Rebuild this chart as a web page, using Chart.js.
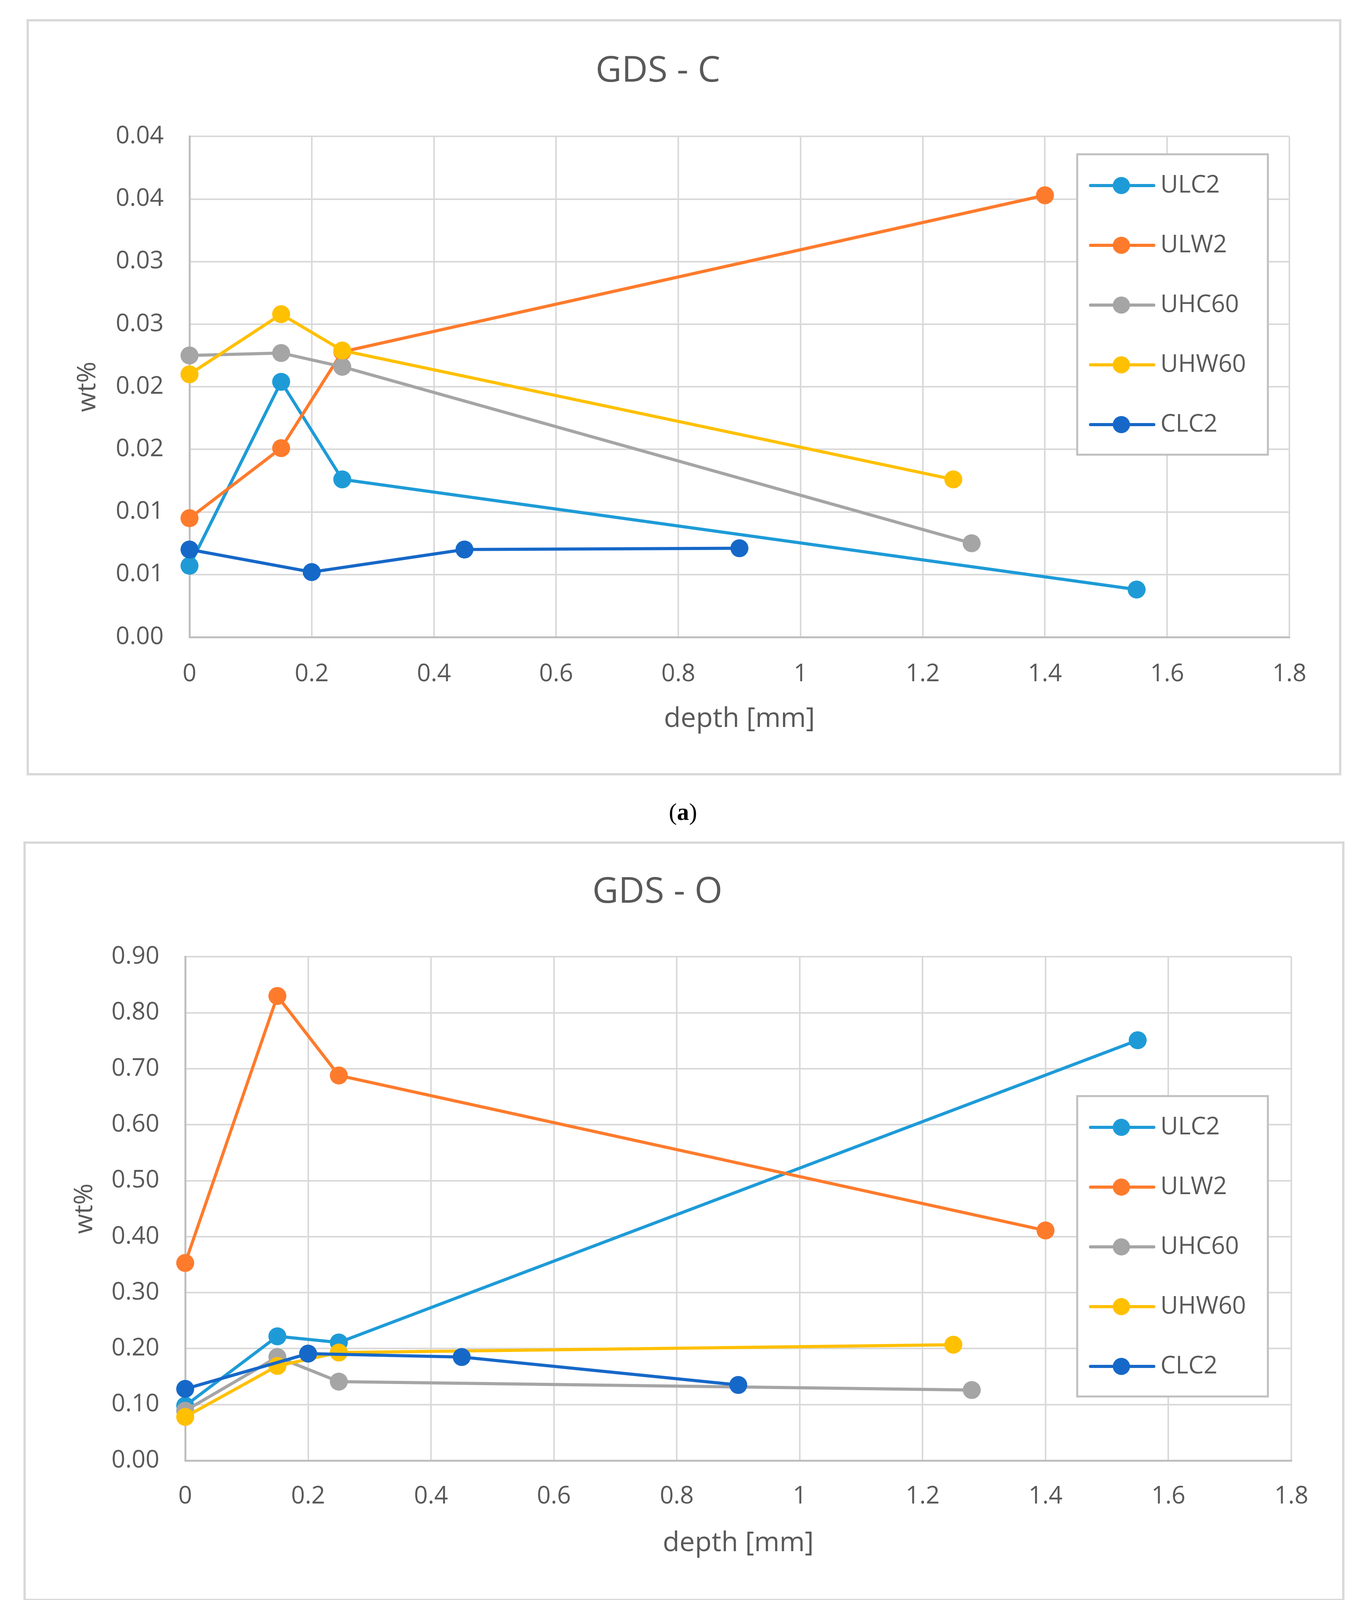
<!DOCTYPE html>
<html>
<head>
<meta charset="utf-8">
<script src="https://cdn.jsdelivr.net/npm/chart.js@4.4.0/dist/chart.umd.min.js"></script>
<style>
html, body { margin: 0; padding: 0; background: #fff; }
body { width: 3491px; height: 4268px; position: relative; overflow: hidden; }
.panel { position: absolute; }
.caption {
    position: absolute; width: 400px; text-align: center;
    font-family: "Liberation Serif", "DejaVu Serif", serif;
    font-size: 62px; line-height: 62px; color: #000;
}
</style>
</head>
<body>
<div class="panel" style="left:68px;top:49px;width:3365px;height:1936px"><canvas id="chartC"></canvas></div>
<div class="caption" style="left:1548px;top:2047px">(<b>a</b>)</div>
<div class="panel" style="left:60px;top:2154px;width:3381px;height:1945px"><canvas id="chartO"></canvas></div>
<div class="caption" style="left:1548px;top:4155px">(<b>b</b>)</div>

<script>
// series
const seriesNames = ['ULC2', 'ULW2', 'UHC60', 'UHW60', 'CLC2'];

// depth [mm] of each measurement
const depthULC2  = [0, 0.15, 0.25, 1.55];
const depthULW2  = [0, 0.15, 0.25, 1.4];
const depthUHC60 = [0, 0.15, 0.25, 1.28];
const depthUHW60 = [0, 0.15, 0.25, 1.25];
const depthCLC2  = [0, 0.2, 0.45, 0.9];

// (a) GDS - C, wt%
const carbonULC2  = [0.0057, 0.0204, 0.0126, 0.0038];
const carbonULW2  = [0.0095, 0.0151, 0.0228, 0.0353];
const carbonUHC60 = [0.0225, 0.0227, 0.0216, 0.0075];
const carbonUHW60 = [0.0210, 0.0258, 0.0229, 0.0126];
const carbonCLC2  = [0.0070, 0.0052, 0.0070, 0.0071];

// (b) GDS - O, wt%
const oxygenULC2  = [0.098, 0.222, 0.211, 0.751];
const oxygenULW2  = [0.353, 0.830, 0.688, 0.411];
const oxygenUHC60 = [0.089, 0.185, 0.141, 0.126];
const oxygenUHW60 = [0.078, 0.169, 0.193, 0.207];
const oxygenCLC2  = [0.128, 0.191, 0.185, 0.135];

// tick values and labels
const depthTicks = [0, 0.2, 0.4, 0.6, 0.8, 1, 1.2, 1.4, 1.6, 1.8];
const depthTickLabels = ['0', '0.2', '0.4', '0.6', '0.8', '1', '1.2', '1.4', '1.6', '1.8'];
const carbonTicks = [0, 0.005, 0.01, 0.015, 0.02, 0.025, 0.03, 0.035, 0.04];
const carbonTickLabels = ['0.00', '0.01', '0.01', '0.02', '0.02', '0.03', '0.03', '0.04', '0.04'];
const oxygenTicks = [0, 0.1, 0.2, 0.3, 0.4, 0.5, 0.6, 0.7, 0.8, 0.9];
const oxygenTickLabels = ['0.00', '0.10', '0.20', '0.30', '0.40', '0.50', '0.60', '0.70', '0.80', '0.90'];

const seriesColors = ['#1e9bd7', '#fe7b2c', '#a5a5a5', '#ffc000', '#1668c8'];
const TEXT = '#595959';

Chart.defaults.font.family = '"Open Sans", "Noto Sans", sans-serif';
Chart.defaults.color = TEXT;

const pairs = (xs, ys) => xs.map((x, i) => ({ x: x, y: ys[i] }));

// white background + light frame around each panel
const frame = {
    id: 'frame',
    beforeDraw(chart) {
        const { ctx, width, height } = chart;
        ctx.save();
        ctx.fillStyle = '#fff';
        ctx.fillRect(0, 0, width, height);
        ctx.strokeStyle = '#d9d9d9';
        ctx.lineWidth = 6;
        ctx.strokeRect(3, 3, width - 6, height - 6);
        ctx.restore();
    }
};

// Excel-like boxed legend sitting on top of the plot
const boxLegend = {
    id: 'boxLegend',
    afterDraw(chart, args, opts) {
        const ctx = chart.ctx;
        const { x, y, w, h } = opts;
        ctx.save();
        ctx.fillStyle = '#fff';
        ctx.fillRect(x, y, w, h);
        ctx.strokeStyle = '#bfbfbf';
        ctx.lineWidth = 5;
        ctx.strokeRect(x, y, w, h);
        ctx.font = '62px "Open Sans", "Noto Sans", sans-serif';
        ctx.textBaseline = 'middle';
        ctx.textAlign = 'left';
        chart.data.datasets.forEach((ds, i) => {
            const cy = y + 80 + i * 153;
            ctx.strokeStyle = ds.borderColor;
            ctx.lineWidth = ds.borderWidth;
            ctx.lineCap = 'round';
            ctx.beginPath();
            ctx.moveTo(x + 34, cy);
            ctx.lineTo(x + 196, cy);
            ctx.stroke();
            ctx.fillStyle = ds.pointBackgroundColor;
            ctx.beginPath();
            ctx.arc(x + 113, cy, 22, 0, Math.PI * 2);
            ctx.fill();
            ctx.fillStyle = TEXT;
            ctx.fillText(ds.label, x + 213, cy);
        });
        ctx.restore();
    }
};

function makeDatasets(values) {
    const depths = [depthULC2, depthULW2, depthUHC60, depthUHW60, depthCLC2];
    return seriesNames.map((name, i) => ({
        label: name,
        data: pairs(depths[i], values[i]),
        borderColor: seriesColors[i],
        backgroundColor: seriesColors[i],
        pointBackgroundColor: seriesColors[i],
        pointBorderColor: seriesColors[i],
        pointBorderWidth: 0,
        pointRadius: 23,
        borderWidth: 8,
        tension: 0,
        clip: false,
        order: seriesNames.length - i
    }));
}

function makeChart(id, o) {
    return new Chart(document.getElementById(id), {
        type: 'line',
        data: { datasets: makeDatasets(o.values) },
        plugins: [frame, boxLegend],
        options: {
            responsive: true,
            maintainAspectRatio: false,
            devicePixelRatio: 1,
            animation: false,
            layout: { padding: { left: 0, top: 0, bottom: 0, right: o.padRight } },
            plugins: {
                legend: { display: false },
                tooltip: { enabled: false },
                title: {
                    display: true,
                    text: o.title,
                    color: TEXT,
                    font: { size: 92, weight: 'normal' },
                    padding: o.titlePad
                },
                boxLegend: o.legend
            },
            scales: {
                x: {
                    type: 'linear',
                    min: 0,
                    max: 1.8,
                    afterBuildTicks: (s) => { s.ticks = depthTicks.map(v => ({ value: v })); },
                    afterFit: (s) => { s.height = o.xHeight; },
                    ticks: {
                        callback: (v, i) => depthTickLabels[i],
                        padding: o.xTickPad,
                        color: TEXT,
                        font: { size: 62 },
                        maxRotation: 0,
                        autoSkip: false
                    },
                    grid: { color: '#d9d9d9', lineWidth: 4, drawTicks: false },
                    border: { color: '#bfbfbf', width: 5 },
                    title: {
                        display: true,
                        text: 'depth [mm]',
                        color: TEXT,
                        font: { size: 70 },
                        padding: { top: 0, bottom: o.xTitlePad }
                    }
                },
                y: {
                    type: 'linear',
                    min: 0,
                    max: o.yMax,
                    afterBuildTicks: (s) => { s.ticks = o.yTicks.map(v => ({ value: v })); },
                    afterFit: (s) => { s.width = o.yWidth; },
                    ticks: {
                        callback: (v, i) => o.yTickLabels[i],
                        padding: 66,
                        color: TEXT,
                        font: { size: 62 },
                        autoSkip: false
                    },
                    grid: { color: '#d9d9d9', lineWidth: 4, drawTicks: false },
                    border: { color: '#bfbfbf', width: 5 },
                    title: {
                        display: true,
                        text: 'wt%',
                        color: TEXT,
                        font: { size: 66 },
                        padding: { top: 118, bottom: 0 }
                    }
                }
            }
        }
    });
}

makeChart('chartC', {
    title: 'GDS - C',
    values: [carbonULC2, carbonULW2, carbonUHC60, carbonUHW60, carbonCLC2],
    yMax: 0.04,
    yTicks: carbonTicks,
    yTickLabels: carbonTickLabels,
    titlePad: { top: 79, bottom: 111 },
    padRight: 133,
    yWidth: 417,
    xHeight: 354,
    xTickPad: 58,
    xTitlePad: 102,
    legend: { x: 2689, y: 346, w: 488, h: 769 }
});

makeChart('chartO', {
    title: 'GDS - O',
    values: [oxygenULC2, oxygenULW2, oxygenUHC60, oxygenUHW60, oxygenCLC2],
    yMax: 0.9,
    yTicks: oxygenTicks,
    yTickLabels: oxygenTickLabels,
    titlePad: { top: 76, bottom: 109 },
    padRight: 136,
    yWidth: 414,
    xHeight: 360,
    xTickPad: 55,
    xTitlePad: 106,
    legend: { x: 2697, y: 652, w: 488, h: 769 }
});
</script>
</body>
</html>
